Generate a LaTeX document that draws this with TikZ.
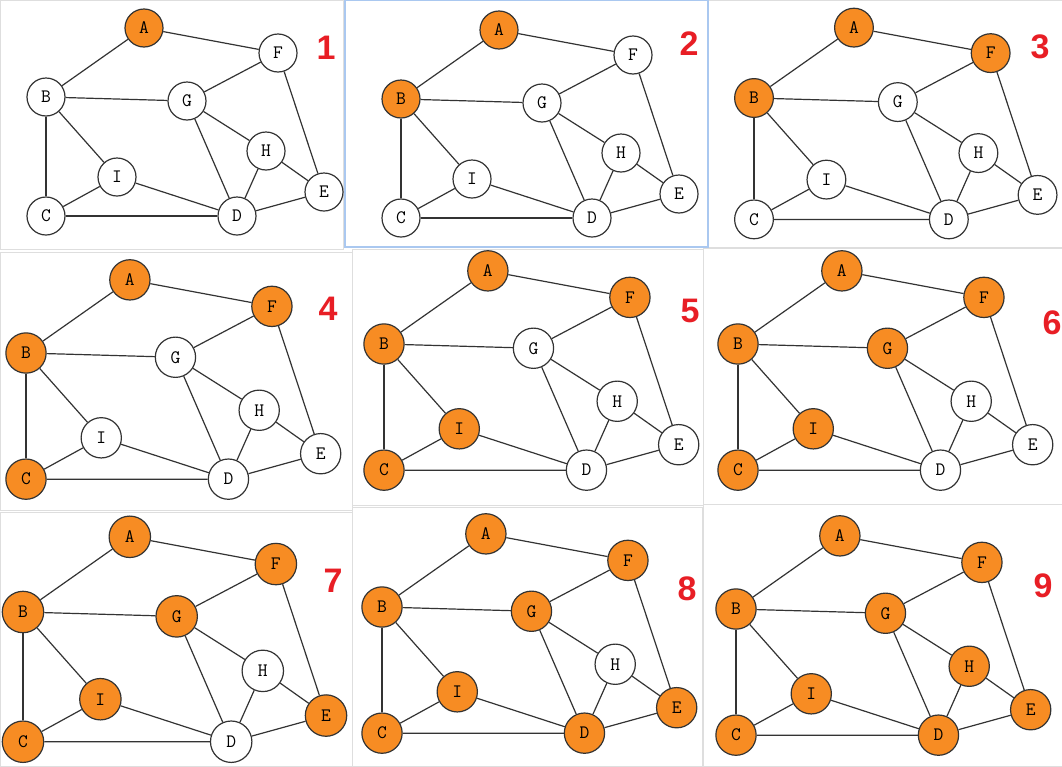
\documentclass[tikz,border=0pt]{standalone}
\usepackage{fontspec}
\usepackage{tikz}
\newfontfamily\stepfont{Liberation Sans}
\definecolor{NodeOrange}{RGB}{247,140,35}
\definecolor{StepRed}{RGB}{232,30,37}
\definecolor{EdgeGray}{RGB}{51,51,51}
\definecolor{FrameGray}{RGB}{222,222,222}
\definecolor{FrameBlue}{RGB}{170,200,240}

% one step of the colouring: #1 step, #2 centre of B, #3 scale, #4 number
\newcommand{\colorstep}[4]{%
    \begin{scope}[shift={(#2)}, scale=#3]
        \foreach \n/\x/\y/\k in {A/98/-69/1, B/0/0/2, F/232/-44/3,
            C/0/119/4, I/71/80/5, G/141/4/6, E/278/95/7, D/191/119/8,
            H/220/54/9}{
            \ifnum\k>#1 \def\vcolor{white}\else\def\vcolor{NodeOrange}\fi
            \node[vertex, fill=\vcolor, minimum size=#3*38pt]
                (s#1\n) at (\x,\y) {\n};
        }
        \foreach \u/\v in {A/B, A/F, B/G, B/I, B/C, C/I, C/D, I/D,
            G/F, G/H, G/D, H/D, H/E, F/E, D/E}
            \draw[edge] (s#1\u) -- (s#1\v);
    \end{scope}
    \node[steplabel] (n#1) at (#4) {#1};
}

\begin{document}
\begin{tikzpicture}[
    x=1pt, y=-1pt,
    vertex/.style={circle, draw=EdgeGray, line width=1.2pt, inner sep=0pt,
        font=\ttfamily\fontsize{19}{19}\selectfont},
    edge/.style={EdgeGray, line width=1.2pt},
    frame/.style={draw=FrameGray, fill=white, line width=0.8pt},
    steplabel/.style={text=StepRed, inner sep=0pt,
        font=\stepfont\bfseries\fontsize{34}{34}\selectfont}
]

\useasboundingbox[fill=white] (0,0) rectangle (1062,766);

% panels
\draw[frame] (0,0) rectangle (343,249);
\draw[frame] (708,0) rectangle (1062,247);
\draw[frame] (0,252) rectangle (352,510);
\draw[frame] (352,249) rectangle (703,505);
\draw[frame] (703,248) rectangle (1062,504);
\draw[frame] (0,512) rectangle (352,766);
\draw[frame] (352,507) rectangle (702,766);
\draw[frame] (703,504) rectangle (1062,766);
\draw[frame, draw=FrameBlue, line width=1.2pt] (345,0) rectangle (708,247);

\colorstep{1}{46,97}{1}{326,48}
\colorstep{2}{401,99}{1}{689,44}
\colorstep{3}{754,98}{1.02}{1040,47}
\colorstep{4}{26,353}{1.06}{328,309}
\colorstep{5}{384,344}{1.06}{690,311}
\colorstep{6}{738,344}{1.06}{1052,323}
\colorstep{7}{23,612}{1.09}{333,581}
\colorstep{8}{382,607}{1.06}{687,589}
\colorstep{9}{736,609}{1.06}{1043,586}

\end{tikzpicture}
\end{document}
